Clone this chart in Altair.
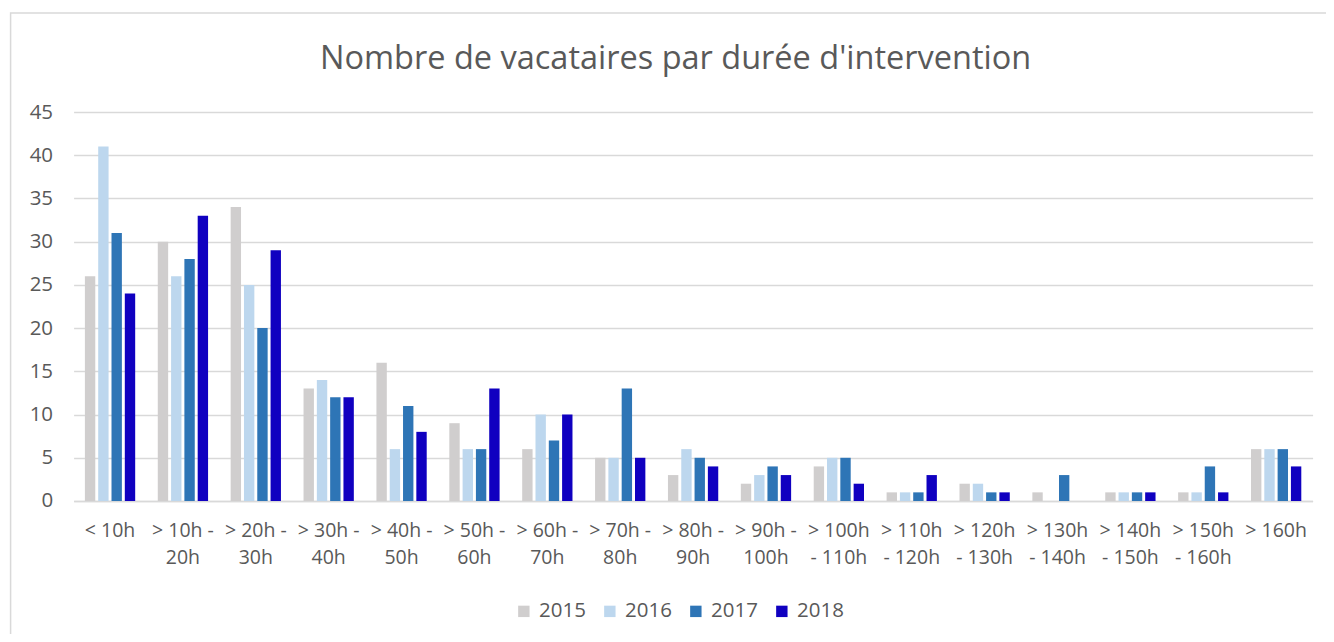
import altair as alt
import pandas as pd

categories = ["< 10h", "> 10h -|20h", "> 20h -|30h", "> 30h -|40h", "> 40h -|50h",
              "> 50h -|60h", "> 60h -|70h", "> 70h -|80h", "> 80h -|90h", "> 90h -|100h",
              "> 100h|- 110h", "> 110h|- 120h", "> 120h|- 130h", "> 130h|- 140h",
              "> 140h|- 150h", "> 150h|- 160h", "> 160h"]
years = ["2015", "2016", "2017", "2018"]
v2015 = [26, 30, 34, 13, 16, 9, 6, 5, 3, 2, 4, 1, 2, 1, 1, 1, 6]
v2016 = [41, 26, 25, 14, 6, 6, 10, 5, 6, 3, 5, 1, 2, 0, 1, 1, 6]
v2017 = [31, 28, 20, 12, 11, 6, 7, 13, 5, 4, 5, 1, 1, 3, 1, 4, 6]
v2018 = [24, 33, 29, 12, 8, 13, 10, 5, 4, 3, 2, 3, 1, 0, 1, 1, 4]
colors = ["#d0cece", "#bdd7ee", "#2e75b6", "#1000c0"]
title_text = "Nombre de vacataires par durée d'intervention"

rows = []
for y, vals in zip(years, [v2015, v2016, v2017, v2018]):
    for c, v in zip(categories, vals):
        rows.append({"cat": c, "year": y, "value": v})
df = pd.DataFrame(rows)

FONT = "Open Sans"
GREY = "#595959"

bars = alt.Chart(df).mark_bar().encode(
    x=alt.X("cat:N", sort=categories, title=None,
            scale=alt.Scale(paddingInner=0.31, paddingOuter=0.155),
            axis=alt.Axis(labelAngle=0, labelExpr="split(datum.label, '|')",
                          labelFontSize=19.5, labelColor=GREY, labelFont=FONT,
                          labelLineHeight=27, labelPadding=21, ticks=False,
                          domainColor="#d9d9d9", domainWidth=1.5, grid=False,
                          labelBaseline="top")),
    xOffset=alt.XOffset("year:N", sort=years, scale=alt.Scale(paddingInner=0.22)),
    y=alt.Y("value:Q", title=None,
            scale=alt.Scale(domain=[0, 45], nice=False),
            axis=alt.Axis(values=list(range(0, 50, 5)), labelFontSize=20.5,
                          labelColor=GREY, labelFont=FONT, labelPadding=21,
                          ticks=False, domain=False, gridColor="#d9d9d9",
                          gridWidth=1.5)),
    color=alt.Color("year:N", sort=years,
                    scale=alt.Scale(domain=years, range=colors),
                    legend=alt.Legend(title=None, orient="none", direction="horizontal",
                                      legendX=440, legendY=489, symbolType="square",
                                      symbolSize=130, symbolStrokeWidth=0,
                                      labelFontSize=20.5, labelColor=GREY, labelFont=FONT,
                                      columnPadding=13, labelOffset=5)),
)

base = alt.Chart(pd.DataFrame({"t": [title_text]}))

border = base.mark_rect(
    fill=None, stroke="#d9d9d9", strokeWidth=1.5
).encode(x=alt.value(-63), x2=alt.value(1290), y=alt.value(-99), y2=alt.value(560))

title = base.mark_text(
    font=FONT, fontSize=32.5, color=GREY, align="center", baseline="alphabetic"
).encode(x=alt.value(602), y=alt.value(-43), text="t:N")

chart = alt.layer(border, title, bars).properties(
    width=1239, height=389,
    autosize=alt.AutoSizeParams(type="none"),
    padding={"left": 65.6, "top": 104, "right": 13, "bottom": 133},
).configure_view(stroke=None)

chart.save("out.html", embed_options={"renderer": "svg", "actions": False})
